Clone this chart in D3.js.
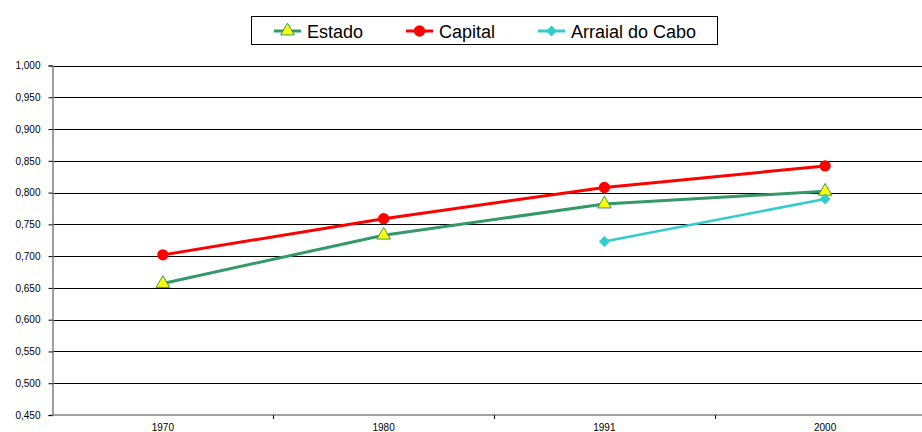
<!DOCTYPE html>
<html>
<head>
<meta charset="utf-8">
<script src="https://cdn.jsdelivr.net/npm/d3@7"></script>
<style>
  body { margin: 0; background: #fff; }
  svg { display: block; font-family: "Liberation Sans", Arial, sans-serif; }
</style>
</head>
<body>
<div id="chart-area"></div>
<script>
// data
var years = ["1970", "1980", "1991", "2000"];
var estado = [0.657, 0.733, 0.782, 0.802];
var capital = [0.702, 0.759, 0.808, 0.842];
var arraial = [null, null, 0.723, 0.790];
var yTicks = [0.45, 0.50, 0.55, 0.60, 0.65, 0.70, 0.75, 0.80, 0.85, 0.90, 0.95, 1.00];

var width = 922, height = 432;

var svg = d3.select("#chart-area")
    .append("svg")
    .attr("width", width)
    .attr("height", height);

// Scales
var x = d3.scaleBand().domain(years).range([52.5, 935.5]);
var y = d3.scaleLinear().domain([0.45, 1.0]).range([415, 65.5]);
var xc = function(d) { return x(d) + x.bandwidth() / 2; };

// Gridlines
svg.append("g")
    .selectAll("line")
    .data(yTicks.slice(1))
    .enter().append("line")
    .attr("x1", 52.5).attr("x2", width)
    .attr("y1", function(d) { return Math.round(y(d)) + 0.5; })
    .attr("y2", function(d) { return Math.round(y(d)) + 0.5; })
    .attr("stroke", "#000")
    .attr("stroke-width", 1);

// Y-axis
var yAxisCall = d3.axisLeft(y)
    .tickValues(yTicks)
    .tickSize(4)
    .tickPadding(8)
    .tickFormat(function(d) { return d3.format(".3f")(d).replace(".", ","); });
var yAxis = svg.append("g")
    .attr("transform", "translate(52.5,0)")
    .call(yAxisCall);
yAxis.select(".domain").attr("stroke", "#808080").attr("stroke-width", 1.5);
yAxis.selectAll(".tick line").attr("stroke", "#000");
yAxis.selectAll("text").attr("font-size", "10px").attr("fill", "#000")
    .attr("font-family", "Liberation Sans, Arial, sans-serif");

// X-axis
var xAxisCall = d3.axisBottom(x)
    .tickSize(0)
    .tickPadding(9);
var xAxis = svg.append("g")
    .attr("transform", "translate(0,415)")
    .call(xAxisCall);
xAxis.select(".domain").remove();
xAxis.append("line")
    .attr("x1", 52.5).attr("x2", width)
    .attr("stroke", "#808080").attr("stroke-width", 1.5);
xAxis.selectAll(".sep")
    .data(years.slice(1))
    .enter().append("line")
    .attr("class", "sep")
    .attr("x1", function(d) { return Math.round(x(d)) + 0.5; })
    .attr("x2", function(d) { return Math.round(x(d)) + 0.5; })
    .attr("y1", 0).attr("y2", 4)
    .attr("stroke", "#000");
xAxis.selectAll("text").attr("font-size", "10px").attr("fill", "#000")
    .attr("font-family", "Liberation Sans, Arial, sans-serif");

// Series
var series = [
    { name: "Estado", values: estado, color: "#339966", width: 3, symbol: d3.symbolTriangle, size: 80, rot: 0, fill: "#ffff00", stroke: "#339966" },
    { name: "Capital", values: capital, color: "#ff0000", width: 3, symbol: d3.symbolCircle, size: 100, rot: 0, fill: "#ff0000", stroke: "none" },
    { name: "Arraial do Cabo", values: arraial, color: "#33cccc", width: 2.5, symbol: d3.symbolSquare, size: 60, rot: 45, fill: "#33cccc", stroke: "none" }
];

var line = d3.line()
    .defined(function(d) { return d.v !== null; })
    .x(function(d) { return xc(d.k); })
    .y(function(d) { return y(d.v); });

series.forEach(function(s) {
    var pts = years.map(function(k, i) { return { k: k, v: s.values[i] }; });
    svg.append("path")
        .datum(pts)
        .attr("fill", "none")
        .attr("stroke", s.color)
        .attr("stroke-width", s.width)
        .attr("d", line);
    svg.append("g")
        .selectAll("path")
        .data(pts.filter(function(d) { return d.v !== null; }))
        .enter().append("path")
        .attr("transform", function(d) { return "translate(" + xc(d.k) + "," + y(d.v) + ") rotate(" + s.rot + ")"; })
        .attr("d", d3.symbol().type(s.symbol).size(s.size))
        .attr("fill", s.fill)
        .attr("stroke", s.stroke)
        .attr("stroke-width", 1);
});

// Legend
var legend = svg.append("g");
legend.append("rect")
    .attr("x", 251.5).attr("y", 16.5)
    .attr("width", 466).attr("height", 28)
    .attr("fill", "#fff")
    .attr("stroke", "#000")
    .attr("stroke-width", 1);
var legendX = [274, 406, 538];
series.forEach(function(s, i) {
    var lx = legendX[i], ly = 31;
    legend.append("line")
        .attr("x1", lx).attr("x2", lx + 27)
        .attr("y1", ly).attr("y2", ly)
        .attr("stroke", s.color).attr("stroke-width", 3);
    legend.append("path")
        .attr("transform", "translate(" + (lx + 13.5) + "," + ly + ") rotate(" + s.rot + ")")
        .attr("d", d3.symbol().type(s.symbol).size(s.size))
        .attr("fill", s.fill)
        .attr("stroke", s.stroke)
        .attr("stroke-width", 1);
    legend.append("text")
        .attr("x", lx + 33).attr("y", ly + 6.5)
        .attr("font-size", "18px")
        .attr("fill", "#000")
        .text(s.name);
});
</script>
</body>
</html>
